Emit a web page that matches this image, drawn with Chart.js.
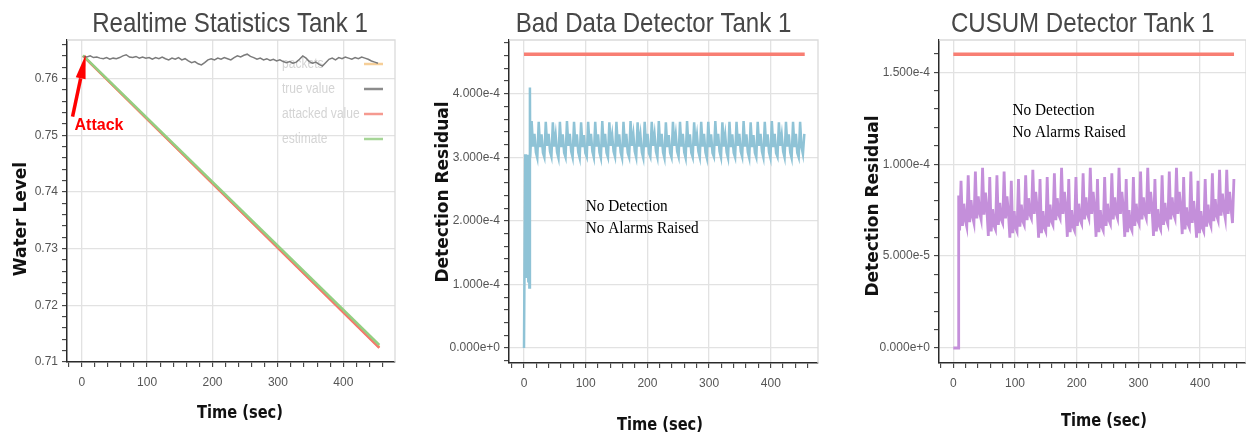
<!DOCTYPE html>
<html>
<head>
<meta charset="utf-8">
<title>Tank 1 detectors</title>
<script src="https://cdn.jsdelivr.net/npm/chart.js@4.4.1/dist/chart.umd.min.js"></script>
<style>
  html, body { margin: 0; padding: 0; background: #fff; }
  body { width: 1246px; height: 434px; position: relative; overflow: hidden; }
  canvas { position: absolute; top: 0; }
</style>
</head>
<body>
<canvas id="realtimeChart" width="410" height="434" style="left:0"></canvas>
<canvas id="badDataChart" width="410" height="434" style="left:420px"></canvas>
<canvas id="cusumChart" width="406" height="434" style="left:840px"></canvas>
<script>
/* ---- Realtime statistics: water level ---- */
const trueStart = 3, trueStep = 5;
const trueLevel = [
  0.7639, 0.7638, 0.7640, 0.7637, 0.7638, 0.7636, 0.7635, 0.7637, 0.7634, 0.7636,
  0.7635, 0.7637, 0.7640, 0.7642, 0.7638, 0.7637, 0.7639, 0.7636, 0.7638, 0.7636,
  0.7637, 0.7634, 0.7637, 0.7635, 0.7638, 0.7635, 0.7633, 0.7636, 0.7634, 0.7637,
  0.7633, 0.7635, 0.7631, 0.7628, 0.7630, 0.7626, 0.7624, 0.7628, 0.7633, 0.7635,
  0.7633, 0.7636, 0.7634, 0.7637, 0.7635, 0.7633, 0.7637, 0.7640, 0.7638, 0.7641,
  0.7643, 0.7639, 0.7637, 0.7634, 0.7636, 0.7633, 0.7635, 0.7632, 0.7634, 0.7631,
  0.7633, 0.7630, 0.7628, 0.7630, 0.7627, 0.7629, 0.7634, 0.7640, 0.7636, 0.7630,
  0.7627, 0.7629, 0.7625, 0.7622, 0.7628, 0.7634, 0.7636, 0.7633, 0.7637, 0.7635,
  0.7638, 0.7636, 0.7634, 0.7637, 0.7635, 0.7638, 0.7636, 0.7634, 0.7631, 0.7629,
  0.7627
];
const attackTimes = [2, 455];
const packetLevel = [0.7640, 0.7126];
const attackedLevel = [0.7640, 0.7125];
const estimateLevel = [0.7641, 0.7130];

/* ---- Bad data detector residual ---- */
const badStartupTimes = [0, 2, 3, 4, 5, 6, 7, 8, 8.7, 9.6];
const badStartupResidual = [0, 3.05e-4, 1.10e-4, 3.02e-4, 1.40e-4, 3.04e-4, 1.05e-4, 2.70e-4, 0.95e-4, 4.10e-4];
const badStart = 10.1, badStep = 2.29;
const badResidual = [
  3.00e-4, 3.57e-4, 3.17e-4, 3.37e-4, 3.08e-4,
  2.99e-4, 3.56e-4, 3.16e-4, 3.36e-4, 3.07e-4,
  3.00e-4, 3.56e-4, 3.18e-4, 3.37e-4, 3.09e-4,
  3.01e-4, 3.55e-4, 3.17e-4, 3.35e-4, 3.08e-4,
  2.99e-4, 3.56e-4, 3.16e-4, 3.36e-4, 3.07e-4,
  3.00e-4, 3.57e-4, 3.18e-4, 3.37e-4, 3.09e-4,
  3.00e-4, 3.56e-4, 3.17e-4, 3.36e-4, 3.08e-4,
  2.99e-4, 3.55e-4, 3.16e-4, 3.35e-4, 3.07e-4,
  3.01e-4, 3.56e-4, 3.18e-4, 3.37e-4, 3.09e-4,
  3.00e-4, 3.56e-4, 3.17e-4, 3.36e-4, 3.08e-4,
  2.99e-4, 3.57e-4, 3.16e-4, 3.37e-4, 3.07e-4,
  3.00e-4, 3.55e-4, 3.18e-4, 3.35e-4, 3.09e-4,
  3.01e-4, 3.56e-4, 3.17e-4, 3.36e-4, 3.08e-4,
  2.99e-4, 3.56e-4, 3.16e-4, 3.37e-4, 3.07e-4,
  3.00e-4, 3.57e-4, 3.18e-4, 3.36e-4, 3.09e-4,
  3.00e-4, 3.55e-4, 3.17e-4, 3.35e-4, 3.08e-4,
  2.99e-4, 3.56e-4, 3.16e-4, 3.37e-4, 3.07e-4,
  3.01e-4, 3.56e-4, 3.18e-4, 3.36e-4, 3.09e-4,
  3.00e-4, 3.57e-4, 3.17e-4, 3.37e-4, 3.08e-4,
  2.99e-4, 3.55e-4, 3.16e-4, 3.35e-4, 3.07e-4,
  3.00e-4, 3.56e-4, 3.18e-4, 3.36e-4, 3.09e-4,
  3.01e-4, 3.56e-4, 3.17e-4, 3.37e-4, 3.08e-4,
  2.99e-4, 3.57e-4, 3.16e-4, 3.36e-4, 3.07e-4,
  3.00e-4, 3.55e-4, 3.18e-4, 3.35e-4, 3.09e-4,
  3.00e-4, 3.56e-4, 3.17e-4, 3.37e-4, 3.08e-4,
  2.99e-4, 3.56e-4, 3.16e-4, 3.36e-4, 3.07e-4,
  3.01e-4, 3.57e-4, 3.18e-4, 3.37e-4, 3.09e-4,
  3.00e-4, 3.55e-4, 3.17e-4, 3.35e-4, 3.08e-4,
  2.99e-4, 3.56e-4, 3.16e-4, 3.36e-4, 3.07e-4,
  3.00e-4, 3.56e-4, 3.18e-4, 3.37e-4, 3.09e-4,
  3.01e-4, 3.57e-4, 3.17e-4, 3.36e-4, 3.08e-4,
  2.99e-4, 3.55e-4, 3.16e-4, 3.35e-4, 3.07e-4,
  3.00e-4, 3.56e-4, 3.18e-4, 3.37e-4, 3.09e-4,
  3.00e-4, 3.56e-4, 3.17e-4, 3.36e-4, 3.08e-4,
  2.99e-4, 3.57e-4, 3.16e-4, 3.37e-4, 3.07e-4,
  3.01e-4, 3.55e-4, 3.18e-4, 3.35e-4, 3.09e-4,
  3.00e-4, 3.56e-4, 3.17e-4, 3.36e-4, 3.08e-4,
  2.99e-4, 3.56e-4, 3.16e-4, 3.37e-4, 3.07e-4,
  3.00e-4, 3.56e-4, 3.16e-4, 3.05e-4, 3.37e-4
];
const badThresholdTimes = [0, 455];
const badThreshold = [4.62e-4, 4.62e-4];

/* ---- CUSUM detector residual ---- */
const cusumStartupTimes = [0, 8.1, 8.7];
const cusumStartupResidual = [0, 0, 8.3e-5];
const cusumStart = 10.17, cusumStep = 2.328;
const cusumResidual = [
  6.40e-5, 9.10e-5, 6.65e-5, 7.85e-5, 6.95e-5,
  6.60e-5, 9.40e-5, 6.85e-5, 8.05e-5, 7.15e-5,
  6.80e-5, 9.60e-5, 7.05e-5, 8.25e-5, 7.35e-5,
  7.00e-5, 9.80e-5, 7.25e-5, 8.45e-5, 7.55e-5,
  6.10e-5, 9.30e-5, 6.35e-5, 7.55e-5, 6.65e-5,
  6.45e-5, 9.40e-5, 6.70e-5, 7.90e-5, 7.00e-5,
  6.80e-5, 9.60e-5, 7.05e-5, 8.25e-5, 7.35e-5,
  6.00e-5, 9.10e-5, 6.25e-5, 7.45e-5, 6.55e-5,
  6.35e-5, 9.20e-5, 6.60e-5, 7.80e-5, 6.90e-5,
  6.70e-5, 9.40e-5, 6.95e-5, 8.15e-5, 7.25e-5,
  7.05e-5, 9.70e-5, 7.30e-5, 8.50e-5, 7.60e-5,
  6.00e-5, 9.20e-5, 6.25e-5, 7.45e-5, 6.55e-5,
  6.35e-5, 9.30e-5, 6.60e-5, 7.80e-5, 6.90e-5,
  6.70e-5, 9.50e-5, 6.95e-5, 8.15e-5, 7.25e-5,
  7.05e-5, 9.80e-5, 7.30e-5, 8.50e-5, 7.60e-5,
  6.05e-5, 9.20e-5, 6.30e-5, 7.50e-5, 6.60e-5,
  6.40e-5, 9.30e-5, 6.65e-5, 7.85e-5, 6.95e-5,
  6.75e-5, 9.50e-5, 7.00e-5, 8.20e-5, 7.30e-5,
  7.05e-5, 9.80e-5, 7.30e-5, 8.50e-5, 7.60e-5,
  6.05e-5, 9.20e-5, 6.30e-5, 7.50e-5, 6.60e-5,
  6.40e-5, 9.30e-5, 6.65e-5, 7.85e-5, 6.95e-5,
  6.75e-5, 9.50e-5, 7.00e-5, 8.20e-5, 7.30e-5,
  7.05e-5, 9.80e-5, 7.30e-5, 8.50e-5, 7.60e-5,
  6.05e-5, 9.20e-5, 6.30e-5, 7.50e-5, 6.60e-5,
  6.40e-5, 9.30e-5, 6.65e-5, 7.85e-5, 6.95e-5,
  6.75e-5, 9.60e-5, 7.00e-5, 8.20e-5, 7.30e-5,
  7.05e-5, 9.80e-5, 7.30e-5, 8.50e-5, 7.60e-5,
  6.10e-5, 9.20e-5, 6.35e-5, 7.55e-5, 6.65e-5,
  6.45e-5, 9.40e-5, 6.70e-5, 7.90e-5, 7.00e-5,
  6.75e-5, 9.60e-5, 7.00e-5, 8.20e-5, 7.30e-5,
  7.05e-5, 9.80e-5, 7.30e-5, 8.50e-5, 7.60e-5,
  6.20e-5, 9.30e-5, 6.45e-5, 7.65e-5, 6.75e-5,
  6.55e-5, 9.60e-5, 6.80e-5, 8.00e-5, 7.10e-5,
  6.00e-5, 9.10e-5, 6.25e-5, 7.45e-5, 6.55e-5,
  6.35e-5, 9.20e-5, 6.60e-5, 7.80e-5, 6.90e-5,
  6.65e-5, 9.50e-5, 6.90e-5, 8.10e-5, 7.20e-5,
  6.95e-5, 9.70e-5, 7.20e-5, 8.40e-5, 7.50e-5,
  7.05e-5, 9.70e-5, 7.30e-5, 8.50e-5, 7.60e-5,
  6.80e-5, 9.20e-5
];
const cusumThresholdTimes = [0, 455];
const cusumThreshold = [1.598e-4, 1.598e-4];

/* ---- helpers ---- */
Chart.defaults.font.family = "'Liberation Sans', Arial, sans-serif";
const gridColor = '#e2e2e2';
const axisColor = '#2a2a2a';

const isMajor = (v, step) => Math.abs(v / step - Math.round(v / step)) < 1e-6;
const toPoints = (xs, ys) => ys.map((y, i) => ({ x: xs[i], y: y }));
const sampled = (start, step, ys) => ys.map((_, i) => start + i * step);

function axis(o) {
  return {
    type: 'linear',
    min: o.min,
    max: o.max,
    afterFit: s => { if (o.horizontal) s.height = o.size; else s.width = o.size; },
    ticks: {
      stepSize: o.minor,
      autoSkip: false,
      includeBounds: false,
      maxRotation: 0,
      minRotation: 0,
      padding: o.padding,
      color: '#555',
      font: { size: 12 },
      callback: v => isMajor(v, o.major) ? o.format(v) : ''
    },
    grid: {
      color: c => (c.tick && isMajor(c.tick.value, o.major)) ? gridColor : 'rgba(0,0,0,0)',
      lineWidth: 1.3,
      tickColor: axisColor,
      tickLength: 5,
      tickWidth: 1
    },
    border: { display: true, color: axisColor, width: 1.5 }
  };
}

function squished(ctx, text, x, y, font, color, sx) {
  ctx.save();
  ctx.font = font;
  ctx.fillStyle = color;
  ctx.textAlign = 'center';
  ctx.textBaseline = 'alphabetic';
  ctx.translate(x, y);
  ctx.scale(sx, 1);
  ctx.fillText(text, 0, 0);
  ctx.restore();
}

function decor(d) {
  return {
    id: 'decor',
    beforeDatasetsDraw(chart) {
      const ctx = chart.ctx, a = chart.chartArea;
      ctx.save();
      ctx.strokeStyle = '#dadada';
      ctx.lineWidth = 1.3;
      ctx.beginPath();
      ctx.moveTo(a.left, a.top);
      ctx.lineTo(a.right, a.top);
      ctx.lineTo(a.right, a.bottom);
      ctx.stroke();
      if (d.legend) {
        ctx.font = "14px 'Liberation Sans', Arial, sans-serif";
        ctx.textBaseline = 'alphabetic';
        d.legend.forEach((item, i) => {
          const by = a.top + 28 + i * 25;
          ctx.save();
          ctx.translate(a.right - 113, by);
          ctx.scale(0.86, 1);
          ctx.fillStyle = '#d4d4d4';
          ctx.textAlign = 'left';
          ctx.fillText(item.label, 0, 0);
          ctx.restore();
          ctx.strokeStyle = item.color;
          ctx.lineWidth = 2.5;
          ctx.beginPath();
          ctx.moveTo(a.right - 31, by - 4);
          ctx.lineTo(a.right - 12, by - 4);
          ctx.stroke();
        });
      }
      ctx.restore();
    },
    afterDraw(chart) {
      const ctx = chart.ctx, xs = chart.scales.x, ys = chart.scales.y;
      squished(ctx, d.title.text, d.title.x, d.title.y, "28px 'Liberation Sans', Arial, sans-serif", '#474747', 0.86);
      squished(ctx, 'Time (sec)', d.xTitle.x, d.xTitle.y, "bold 17px 'DejaVu Sans', sans-serif", '#111', 0.86);
      ctx.save();
      ctx.font = "bold 17px 'DejaVu Sans', sans-serif";
      ctx.fillStyle = '#111';
      ctx.textAlign = 'center';
      ctx.textBaseline = 'alphabetic';
      ctx.translate(d.yTitle.x, d.yTitle.y);
      ctx.rotate(-Math.PI / 2);
      ctx.fillText(d.yTitle.text, 0, 0);
      ctx.restore();
      if (d.note) {
        const nx = xs.getPixelForValue(d.note.x), ny = ys.getPixelForValue(d.note.y);
        d.note.lines.forEach((line, i) => {
          ctx.save();
          ctx.font = "17px 'Liberation Serif', 'Times New Roman', serif";
          ctx.fillStyle = '#000';
          ctx.textAlign = 'left';
          ctx.translate(nx, ny + i * 22);
          ctx.scale(0.9, 1);
          ctx.fillText(line, 0, 0);
          ctx.restore();
        });
      }
      if (d.arrow) {
        const tx = xs.getPixelForValue(d.arrow.tip[0]), ty = ys.getPixelForValue(d.arrow.tip[1]);
        const sx = xs.getPixelForValue(d.arrow.tail[0]), sy = ys.getPixelForValue(d.arrow.tail[1]);
        const ang = Math.atan2(ty - sy, tx - sx);
        const head = 24, half = 5;
        const bx = tx - head * Math.cos(ang), by = ty - head * Math.sin(ang);
        ctx.save();
        ctx.strokeStyle = '#ff0000';
        ctx.fillStyle = '#ff0000';
        ctx.lineWidth = 3.5;
        ctx.beginPath();
        ctx.moveTo(sx, sy);
        ctx.lineTo(bx, by);
        ctx.stroke();
        ctx.beginPath();
        ctx.moveTo(tx, ty);
        ctx.lineTo(bx + half * Math.sin(ang), by - half * Math.cos(ang));
        ctx.lineTo(bx - half * Math.sin(ang), by + half * Math.cos(ang));
        ctx.closePath();
        ctx.fill();
        ctx.font = "bold 16px 'Liberation Sans', Arial, sans-serif";
        ctx.textAlign = 'left';
        ctx.fillText(d.arrow.label, xs.getPixelForValue(d.arrow.labelAt[0]), ys.getPixelForValue(d.arrow.labelAt[1]));
        ctx.restore();
      }
    }
  };
}

function line(label, points, color, width) {
  return { label, data: points, borderColor: color, borderWidth: width, pointRadius: 0, tension: 0, fill: false };
}

// first dataset in the list ends up on top
function makeChart(id, datasets, scales, layoutPad, d) {
  return new Chart(document.getElementById(id).getContext('2d'), {
    type: 'line',
    data: { datasets },
    options: {
      responsive: false,
      animation: false,
      layout: { padding: layoutPad },
      plugins: { legend: { display: false }, tooltip: { enabled: false } },
      scales
    },
    plugins: [decor(d)]
  });
}

const xFormat = v => String(Math.round(v));
const expFormat = v => v.toExponential(3);

/* Realtime Statistics Tank 1 */
makeChart('realtimeChart', [
  line('true value', toPoints(sampled(trueStart, trueStep, trueLevel), trueLevel), '#7b7b7b', 1.5),
  line('estimate', toPoints(attackTimes, estimateLevel), '#93cf82', 2.5),
  line('attacked value', toPoints(attackTimes, attackedLevel), '#f4786d', 2.5),
  line('packets', toPoints(attackTimes, packetLevel), '#f5b862', 2.5)
], {
  x: axis({ horizontal: true, min: -22.5, max: 479, minor: 20, major: 100, size: 72, padding: 8, format: xFormat }),
  y: axis({ min: 0.71, max: 0.7668, minor: 0.002, major: 0.01, size: 67, padding: 4, format: v => v.toFixed(2) })
}, { left: 0, top: 40, right: 15, bottom: 0 }, {
  title: { text: 'Realtime Statistics Tank 1', x: 230, y: 32 },
  xTitle: { x: 240, y: 418 },
  yTitle: { text: 'Water Level', x: 25.5, y: 219 },
  legend: [
    { label: 'packets', color: '#f6cf98' },
    { label: 'true value', color: '#8c8c8c' },
    { label: 'attacked value', color: '#f59a90' },
    { label: 'estimate', color: '#a6d597' }
  ],
  arrow: { tip: [6, 0.76418], tail: [-14, 0.7533], label: 'Attack', labelAt: [-11, 0.7509] }
});

/* Bad Data Detector Tank 1 */
const badTimes = badStartupTimes.concat(sampled(badStart, badStep, badResidual));
makeChart('badDataChart', [
  line('threshold', toPoints(badThresholdTimes, badThreshold), '#f87e73', 3.5),
  line('residual', toPoints(badTimes, badStartupResidual.concat(badResidual)), '#8fc3d6', 2.5)
], {
  x: axis({ horizontal: true, min: -24.3, max: 476.5, minor: 20, major: 100, size: 71, padding: 8, format: xFormat }),
  y: axis({ min: -2.36e-5, max: 4.846e-4, minor: 2e-5, major: 1e-4, size: 89, padding: 4, format: expFormat })
}, { left: 0, top: 40, right: 12, bottom: 0 }, {
  title: { text: 'Bad Data Detector Tank 1', x: 233.5, y: 32 },
  xTitle: { x: 240, y: 430 },
  yTitle: { text: 'Detection Residual', x: 28, y: 192 },
  note: { x: 100, y: 2.16e-4, lines: ['No Detection', 'No Alarms Raised'] }
});

/* CUSUM Detector Tank 1 */
const cusumTimes = cusumStartupTimes.concat(sampled(cusumStart, cusumStep, cusumResidual));
makeChart('cusumChart', [
  line('threshold', toPoints(cusumThresholdTimes, cusumThreshold), '#f87e73', 3.5),
  line('residual', toPoints(cusumTimes, cusumStartupResidual.concat(cusumResidual)), '#c48fda', 2.8)
], {
  x: axis({ horizontal: true, min: -23.2, max: 474.4, minor: 20, major: 100, size: 71, padding: 8, format: xFormat }),
  y: axis({ min: -8.17e-6, max: 1.676e-4, minor: 1e-5, major: 5e-5, size: 99, padding: 4, format: expFormat })
}, { left: 0, top: 40, right: 0, bottom: 0 }, {
  title: { text: 'CUSUM Detector Tank 1', x: 242.7, y: 32 },
  xTitle: { x: 264, y: 426 },
  yTitle: { text: 'Detection Residual', x: 37.5, y: 206 },
  note: { x: 96, y: 1.27e-4, lines: ['No Detection', 'No Alarms Raised'] }
});
</script>
</body>
</html>
